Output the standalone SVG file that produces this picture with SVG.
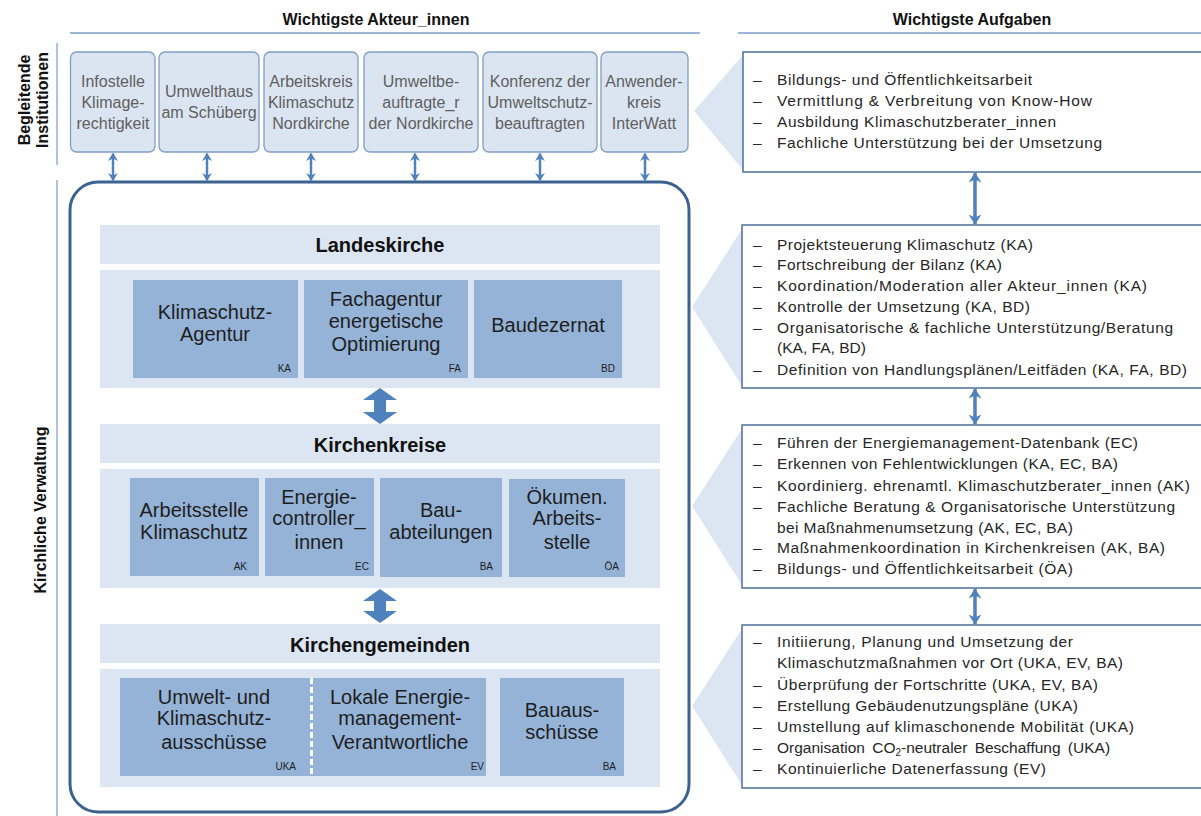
<svg xmlns="http://www.w3.org/2000/svg" width="1201" height="816" viewBox="0 0 1201 816">
<style>
.hdr{font-family:"Liberation Sans",Arial,sans-serif;font-weight:bold;font-size:16px;fill:#111;text-anchor:middle}
.side{font-family:"Liberation Sans",Arial,sans-serif;font-weight:bold;font-size:16px;fill:#111;text-anchor:middle}
.inst{fill:#dbe5f1;stroke:#7f9dc5;stroke-width:1.3}
.instt{font-family:"Liberation Sans",Arial,sans-serif;font-size:16px;fill:#5f5f5f;text-anchor:middle}
.band{fill:#dce6f2}
.ttl{font-family:"Liberation Sans",Arial,sans-serif;font-weight:bold;font-size:20px;fill:#111;text-anchor:middle}
.unit{fill:#95b3d7}
.unitt{font-family:"Liberation Sans",Arial,sans-serif;font-size:20px;fill:#1e1e1e;text-anchor:middle}
.abbr{font-family:"Liberation Sans",Arial,sans-serif;font-size:10px;fill:#1e1e1e;text-anchor:end}
.task{fill:#fff;stroke:#4d6d9a;stroke-width:1.5}
.taskt{font-family:"Liberation Sans",Arial,sans-serif;font-size:15.5px;fill:#262626}
.chev{fill:#dce6f2}
.rule{stroke:#7b9ccb;stroke-width:1.5;fill:none}
.small{stroke:#4f81bd;stroke-width:2.5;fill:none;marker-start:url(#hs);marker-end:url(#hs)}
.mid{stroke:#4f81bd;stroke-width:3.5;fill:none;marker-start:url(#ms);marker-end:url(#ms)}
.fat{fill:#4f81bd}
</style>
<defs>
<marker id="hs" viewBox="0 0 8 10" refX="7.5" refY="5" markerWidth="8" markerHeight="10" orient="auto-start-reverse" markerUnits="userSpaceOnUse"><path d="M0,0 L8,5 L0,10 L2.5,5 z" fill="#4f81bd"/></marker>
<marker id="ms" viewBox="0 0 10 13" refX="9.5" refY="6.5" markerWidth="10" markerHeight="13" orient="auto-start-reverse" markerUnits="userSpaceOnUse"><path d="M0,0 L10,6.5 L0,13 L3,6.5 z" fill="#4f81bd"/></marker>
</defs>
<rect width="1201" height="816" fill="#fff"/>

<!-- headers -->
<g id="headers">
<text class="hdr" x="376" y="25">Wichtigste Akteur_innen</text>
<line class="rule" x1="70" y1="33" x2="700" y2="33"/>
<text class="hdr" x="972" y="25">Wichtigste Aufgaben</text>
<line class="rule" x1="738" y1="33" x2="1201" y2="33"/>
<line stroke="#7b9ccb" stroke-width="1.2" x1="57" y1="43" x2="57" y2="165"/>
<line stroke="#7b9ccb" stroke-width="1.2" x1="57" y1="180" x2="57" y2="816"/>
<text class="side" transform="translate(30,100) rotate(-90)">Begleitende</text>
<text class="side" transform="translate(48,100) rotate(-90)">Institutionen</text>
<text class="side" transform="translate(46,510) rotate(-90)">Kirchliche Verwaltung</text>
</g>

<!-- chevrons -->
<g id="chevrons">
<polygon class="chev" points="743,55 694,111 743,170"/>
<polygon class="chev" points="742,229 692,307 742,386"/>
<polygon class="chev" points="742,429 692,506 742,585"/>
<polygon class="chev" points="742,629 692,706 742,785"/>
</g>

<!-- institutions -->
<g id="inst1"><rect class="inst" x="70.5" y="52" width="84.5" height="100" rx="6"/>
<text class="instt" x="113" y="87">Infostelle</text><text class="instt" x="113" y="108">Klimage-</text><text class="instt" x="113" y="129">rechtigkeit</text></g>
<g id="inst2"><rect class="inst" x="159" y="52" width="100" height="100" rx="6"/>
<text class="instt" x="209" y="97">Umwelthaus</text><text class="instt" x="209" y="118">am Schüberg</text></g>
<g id="inst3"><rect class="inst" x="264" y="52" width="94" height="100" rx="6"/>
<text class="instt" x="311" y="87">Arbeitskreis</text><text class="instt" x="311" y="108">Klimaschutz</text><text class="instt" x="311" y="129">Nordkirche</text></g>
<g id="inst4"><rect class="inst" x="364" y="52" width="114" height="100" rx="6"/>
<text class="instt" x="421" y="87">Umweltbe-</text><text class="instt" x="421" y="108">auftragte_r</text><text class="instt" x="421" y="129">der Nordkirche</text></g>
<g id="inst5"><rect class="inst" x="483" y="52" width="114" height="100" rx="6"/>
<text class="instt" x="540" y="87">Konferenz der</text><text class="instt" x="540" y="108">Umweltschutz-</text><text class="instt" x="540" y="129">beauftragten</text></g>
<g id="inst6"><rect class="inst" x="601" y="52" width="87" height="100" rx="6"/>
<text class="instt" x="644" y="87">Anwender-</text><text class="instt" x="644" y="108">kreis</text><text class="instt" x="644" y="129">InterWatt</text></g>

<!-- main frame -->
<g id="verwaltung">
<rect x="70" y="182" width="619" height="630" rx="28" fill="#fff" stroke="#3d6190" stroke-width="3"/>
</g>

<g id="landeskirche">
<rect class="band" x="100" y="225" width="560" height="39"/>
<text class="ttl" x="380" y="252">Landeskirche</text>
<rect class="band" x="100" y="270" width="560" height="118"/>
<rect class="unit" x="133" y="280" width="165" height="98"/>
<text class="unitt" x="215" y="319">Klimaschutz-</text><text class="unitt" x="215" y="341">Agentur</text><text class="abbr" x="291" y="372">KA</text>
<rect class="unit" x="304" y="280" width="164" height="98"/>
<text class="unitt" x="386" y="306">Fachagentur</text><text class="unitt" x="386" y="328">energetische</text><text class="unitt" x="386" y="351">Optimierung</text><text class="abbr" x="461" y="372">FA</text>
<rect class="unit" x="474" y="280" width="148" height="98"/>
<text class="unitt" x="548" y="332">Baudezernat</text><text class="abbr" x="615" y="372">BD</text>
</g>

<g id="kirchenkreise">
<rect class="band" x="100" y="424" width="560" height="39"/>
<text class="ttl" x="380" y="452">Kirchenkreise</text>
<rect class="band" x="100" y="469" width="560" height="119"/>
<rect class="unit" x="130" y="478" width="129" height="98"/>
<text class="unitt" x="194" y="517">Arbeitsstelle</text><text class="unitt" x="194" y="539">Klimaschutz</text><text class="abbr" x="247" y="570">AK</text>
<rect class="unit" x="265" y="478" width="109" height="98"/>
<text class="unitt" x="319" y="504">Energie-</text><text class="unitt" x="319" y="525">controller_</text><text class="unitt" x="319" y="549">innen</text><text class="abbr" x="369" y="570">EC</text>
<rect class="unit" x="380" y="478" width="122" height="99"/>
<text class="unitt" x="441" y="517">Bau-</text><text class="unitt" x="441" y="539">abteilungen</text><text class="abbr" x="493" y="570">BA</text>
<rect class="unit" x="509" y="479" width="116" height="98"/>
<text class="unitt" x="567" y="504">Ökumen.</text><text class="unitt" x="567" y="525">Arbeits-</text><text class="unitt" x="567" y="549">stelle</text><text class="abbr" x="619" y="570">ÖA</text>
</g>

<g id="kirchengemeinden">
<rect class="band" x="100" y="624" width="560" height="39"/>
<text class="ttl" x="380" y="652">Kirchengemeinden</text>
<rect class="band" x="100" y="669" width="560" height="118"/>
<rect class="unit" x="120" y="678" width="366" height="98"/>
<line x1="311.5" y1="678" x2="311.5" y2="776" stroke="#fff" stroke-width="3" stroke-dasharray="6,3"/>
<text class="unitt" x="214" y="704">Umwelt- und</text><text class="unitt" x="214" y="725">Klimaschutz-</text><text class="unitt" x="214" y="749">ausschüsse</text><text class="abbr" x="296" y="770">UKA</text>
<text class="unitt" x="400" y="704">Lokale Energie-</text><text class="unitt" x="400" y="725">management-</text><text class="unitt" x="400" y="749">Verantwortliche</text><text class="abbr" x="484" y="770">EV</text>
<rect class="unit" x="500" y="678" width="124" height="98"/>
<text class="unitt" x="562" y="717">Bauaus-</text><text class="unitt" x="562" y="739">schüsse</text><text class="abbr" x="616" y="770">BA</text>
</g>

<!-- tasks -->
<g id="task1">
<rect class="task" x="743" y="52" width="470" height="120"/>
<g class="taskt"><text x="753" y="85">–</text><text x="777" y="85" textLength="255" lengthAdjust="spacing">Bildungs- und Öffentlichkeitsarbeit</text>
<text x="753" y="106">–</text><text x="777" y="106" textLength="315" lengthAdjust="spacing">Vermittlung &amp; Verbreitung von Know-How</text>
<text x="753" y="127">–</text><text x="777" y="127" textLength="279" lengthAdjust="spacing">Ausbildung Klimaschutzberater_innen</text>
<text x="753" y="148">–</text><text x="777" y="148" textLength="325" lengthAdjust="spacing">Fachliche Unterstützung bei der Umsetzung</text></g>
</g>
<g id="task2">
<rect class="task" x="742" y="225" width="470" height="163"/>
<g class="taskt"><text x="753" y="250">–</text><text x="777" y="250" textLength="256" lengthAdjust="spacing">Projektsteuerung Klimaschutz (KA)</text>
<text x="753" y="270">–</text><text x="777" y="270" textLength="225" lengthAdjust="spacing">Fortschreibung der Bilanz (KA)</text>
<text x="753" y="291">–</text><text x="777" y="291" textLength="370" lengthAdjust="spacing">Koordination/Moderation aller Akteur_innen (KA)</text>
<text x="753" y="312">–</text><text x="777" y="312" textLength="253" lengthAdjust="spacing">Kontrolle der Umsetzung (KA, BD)</text>
<text x="753" y="333">–</text><text x="777" y="333" textLength="396" lengthAdjust="spacing">Organisatorische &amp; fachliche Unterstützung/Beratung</text>
<text x="777" y="353" textLength="89" lengthAdjust="spacing">(KA, FA, BD)</text>
<text x="753" y="375">–</text><text x="777" y="375" textLength="410" lengthAdjust="spacing">Definition von Handlungsplänen/Leitfäden (KA, FA, BD)</text></g>
</g>
<g id="task3">
<rect class="task" x="742" y="425" width="470" height="163"/>
<g class="taskt"><text x="753" y="448">–</text><text x="777" y="448" textLength="361" lengthAdjust="spacing">Führen der Energiemanagement-Datenbank (EC)</text>
<text x="753" y="469">–</text><text x="777" y="469" textLength="341" lengthAdjust="spacing">Erkennen von Fehlentwicklungen (KA, EC, BA)</text>
<text x="753" y="491">–</text><text x="777" y="491" textLength="413" lengthAdjust="spacing">Koordinierg. ehrenamtl. Klimaschutzberater_innen (AK)</text>
<text x="753" y="512">–</text><text x="777" y="512" textLength="398" lengthAdjust="spacing">Fachliche Beratung &amp; Organisatorische Unterstützung</text>
<text x="777" y="533" textLength="296" lengthAdjust="spacing">bei Maßnahmenumsetzung (AK, EC, BA)</text>
<text x="753" y="553">–</text><text x="777" y="553" textLength="388" lengthAdjust="spacing">Maßnahmenkoordination in Kirchenkreisen (AK, BA)</text>
<text x="753" y="574">–</text><text x="777" y="574" textLength="296" lengthAdjust="spacing">Bildungs- und Öffentlichkeitsarbeit (ÖA)</text></g>
</g>
<g id="task4">
<rect class="task" x="742" y="625" width="470" height="163"/>
<g class="taskt"><text x="753" y="647">–</text><text x="777" y="647" textLength="296" lengthAdjust="spacing">Initiierung, Planung und Umsetzung der</text>
<text x="777" y="668" textLength="346" lengthAdjust="spacing">Klimaschutzmaßnahmen vor Ort (UKA, EV, BA)</text>
<text x="753" y="690">–</text><text x="777" y="690" textLength="321" lengthAdjust="spacing">Überprüfung der Fortschritte (UKA, EV, BA)</text>
<text x="753" y="711">–</text><text x="777" y="711" textLength="301" lengthAdjust="spacing">Erstellung Gebäudenutzungspläne (UKA)</text>
<text x="753" y="732">–</text><text x="777" y="732" textLength="357" lengthAdjust="spacing">Umstellung auf klimaschonende Mobilität (UKA)</text>
<text x="753" y="753">–</text><text x="777" y="753" word-spacing="3">Organisation CO<tspan font-size="10" dy="3">2</tspan><tspan dy="-3">-neutraler Beschaffung (UKA)</tspan></text>
<text x="753" y="774">–</text><text x="777" y="774" textLength="269" lengthAdjust="spacing">Kontinuierliche Datenerfassung (EV)</text></g>
</g>

<!-- connectors -->
<g id="connectors">
<line class="small" x1="113" y1="153.5" x2="113" y2="180.5"/>
<line class="small" x1="207" y1="153.5" x2="207" y2="180.5"/>
<line class="small" x1="311" y1="153.5" x2="311" y2="180.5"/>
<line class="small" x1="415" y1="153.5" x2="415" y2="180.5"/>
<line class="small" x1="540" y1="153.5" x2="540" y2="180.5"/>
<line class="small" x1="645" y1="153.5" x2="645" y2="180.5"/>
<line class="mid" x1="975" y1="173" x2="975" y2="224"/>
<line class="mid" x1="975" y1="389" x2="975" y2="424"/>
<line class="mid" x1="975" y1="589" x2="975" y2="624"/>
<polygon class="fat" points="380,388 397,400 386,400 386,412 397,412 380,424 363,412 374,412 374,400 363,400"/>
<polygon class="fat" points="380,589 397,601 386,601 386,611 397,611 380,623 363,611 374,611 374,601 363,601"/>
</g>
</svg>
